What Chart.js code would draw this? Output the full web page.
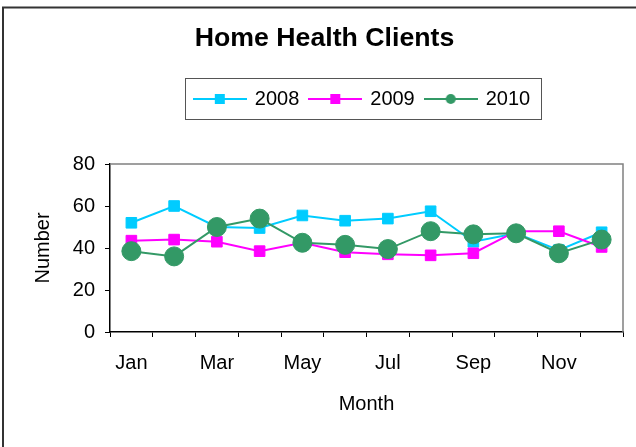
<!DOCTYPE html>
<html>
<head>
<meta charset="utf-8">
<style>
  html, body { margin: 0; padding: 0; background: #fff; }
  #wrap { width: 636px; height: 447px; }
</style>
<script src="https://cdn.jsdelivr.net/npm/chart.js@4/dist/chart.umd.min.js"></script>
</head>
<body>
<div id="wrap"><canvas id="clients"></canvas></div>
<script>
  var months = ['Jan', 'Feb', 'Mar', 'Apr', 'May', 'Jun', 'Jul', 'Aug', 'Sep', 'Oct', 'Nov', 'Dec'];
  var clients2008 = [52, 60, 50, 49.5, 55.5, 53, 54, 57.5, 43, 47, 39, 47.5];
  var clients2009 = [43.5, 44, 43, 38.5, 42.5, 38, 37, 36.5, 37.5, 48, 48, 40.5];
  var clients2010 = [38.5, 36, 50, 54, 42.5, 41.5, 39.5, 48, 46.5, 47, 37.5, 44];
  var yTicks = [0, 20, 40, 60, 80];

  var fontFamily = "'Liberation Sans', Arial, sans-serif";
  Chart.defaults.font.family = fontFamily;
  Chart.defaults.color = '#000';

  // line + marker sample used as the legend symbol
  function legendMarker(color, style) {
    var c = document.createElement('canvas');
    c.width = 54;
    c.height = 12;
    var g = c.getContext('2d');
    g.strokeStyle = color;
    g.lineWidth = 2;
    g.beginPath();
    g.moveTo(0, 6);
    g.lineTo(54, 6);
    g.stroke();
    g.fillStyle = color;
    if (style === 'rect') {
      g.fillRect(22, 1, 10, 10);
    } else {
      g.beginPath();
      g.arc(27, 6, 5, 0, Math.PI * 2);
      g.fill();
    }
    return c;
  }

  function series(label, data, color, style, order) {
    return {
      label: label,
      data: data,
      borderColor: color,
      backgroundColor: color,
      borderWidth: 2,
      pointStyle: style,
      pointRadius: style === 'rect' ? 7.5 : 9.5,
      pointBorderWidth: 1,
      pointBackgroundColor: color,
      pointBorderColor: color,
      tension: 0,
      order: order,
      legendImage: legendMarker(color, style),
    };
  }

  var framePlugin = {
    id: 'frame',
    afterLayout: function (chart) {
      // title sits a little right of the canvas centre, legend a little left
      chart.titleBlock.left += 14;
      chart.legend.left -= 8;
    },
    afterDraw: function (chart) {
      var ctx = chart.ctx;
      var a = chart.chartArea;
      ctx.save();
      // outer frame (top and left edges)
      ctx.strokeStyle = '#333';
      ctx.lineWidth = 2;
      ctx.beginPath();
      ctx.moveTo(636, 7.5);
      ctx.lineTo(3, 7.5);
      ctx.lineTo(3, 447);
      ctx.stroke();
      // plot area top and right edges
      ctx.strokeStyle = '#808080';
      ctx.lineWidth = 1.5;
      ctx.beginPath();
      ctx.moveTo(a.left, a.top);
      ctx.lineTo(a.right, a.top);
      ctx.lineTo(a.right, a.bottom);
      ctx.stroke();
      // legend box
      var boxes = chart.legend.legendHitBoxes;
      if (boxes && boxes.length) {
        var first = boxes[0];
        var last = boxes[boxes.length - 1];
        var x0 = Math.round(first.left - 10);
        var x1 = Math.round(last.left + last.width + 11);
        ctx.strokeStyle = '#555';
        ctx.lineWidth = 1;
        ctx.strokeRect(x0 + 0.5, Math.round(chart.legend.top) + 0.5, x1 - x0, Math.round(chart.legend.height));
      }
      ctx.restore();
    },
  };

  new Chart(document.getElementById('clients'), {
    type: 'line',
    data: {
      labels: months,
      datasets: [
        series('2008', clients2008, '#00CCFF', 'rect', 2),
        series('2009', clients2009, '#FF00FF', 'rect', 1),
        series('2010', clients2010, '#339966', 'circle', 0),
      ],
    },
    options: {
      responsive: true,
      maintainAspectRatio: false,
      animation: false,
      events: [],
      layout: { padding: { left: 12, right: 13, top: 0, bottom: 0 } },
      plugins: {
        title: {
          display: true,
          text: 'Home Health Clients',
          color: '#000',
          font: { size: 26.7, weight: 'bold' },
          padding: { top: 23, bottom: 22.96 },
        },
        subtitle: {
          // spacer between legend and plot
          display: true,
          text: ' ',
          weight: 500,
          font: { size: 1, lineHeight: 1 },
          padding: { top: 0, bottom: 44 },
        },
        legend: {
          position: 'top',
          fullSize: false,
          labels: {
            usePointStyle: true,
            pointStyleWidth: 50,
            padding: 11,
            font: { size: 20 },
            sort: function (a, b) {
              return a.datasetIndex - b.datasetIndex;
            },
            generateLabels: function (chart) {
              var items = Chart.defaults.plugins.legend.labels.generateLabels(chart);
              items.forEach(function (it) {
                it.pointStyle = chart.data.datasets[it.datasetIndex].legendImage;
              });
              return items;
            },
          },
        },
        tooltip: { enabled: false },
      },
      scales: {
        x: {
          offset: true,
          grid: {
            offset: true,
            drawOnChartArea: false,
            color: '#000',
            tickLength: 5,
          },
          border: { color: '#000', width: 1.5 },
          ticks: {
            autoSkip: false,
            maxRotation: 0,
            padding: 14,
            font: { size: 20 },
            callback: function (value, index) {
              return index % 2 === 0 ? months[index] : '';
            },
          },
          title: {
            display: true,
            text: 'Month',
            font: { size: 20 },
            padding: { top: 0, bottom: 31 },
          },
          afterFit: function (scale) {
            scale.height = 115;
          },
        },
        y: {
          min: yTicks[0],
          max: yTicks[yTicks.length - 1],
          grid: {
            drawOnChartArea: false,
            color: '#000',
            tickLength: 5,
          },
          border: { color: '#000', width: 1.5 },
          afterBuildTicks: function (scale) {
            scale.ticks = yTicks.map(function (v) {
              return { value: v };
            });
          },
          ticks: {
            padding: 10,
            font: { size: 20 },
          },
          title: {
            display: true,
            text: 'Number',
            font: { size: 20 },
            padding: { top: 19, bottom: 0 },
          },
          afterFit: function (scale) {
            scale.width = 98;
          },
        },
      },
    },
    plugins: [framePlugin],
  });
</script>
</body>
</html>
